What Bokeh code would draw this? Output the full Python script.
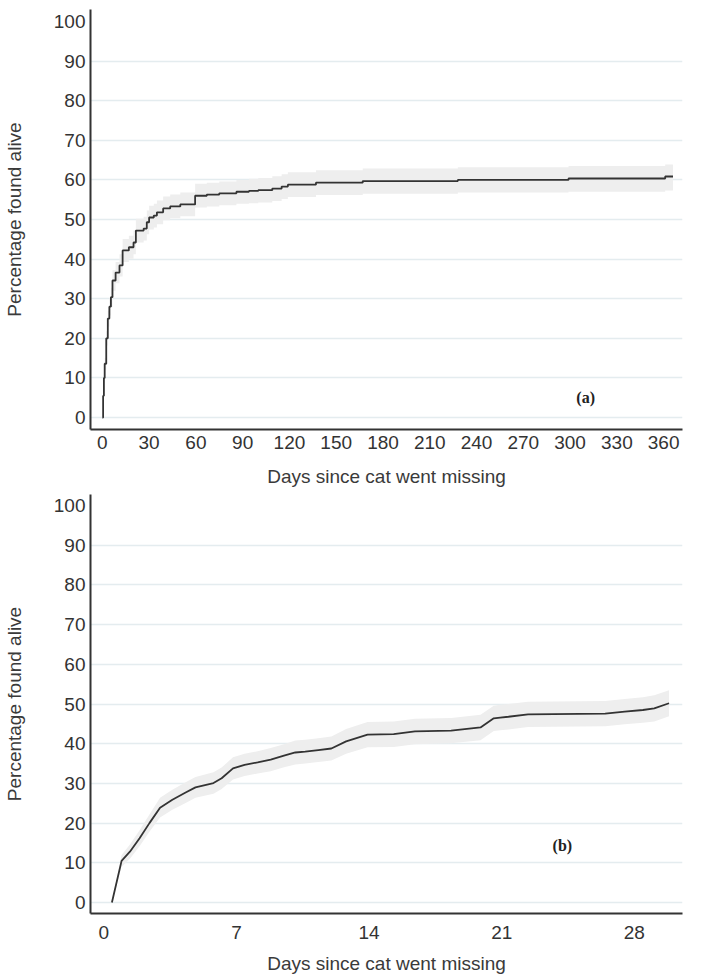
from bokeh.plotting import figure
from bokeh.layouts import column
from bokeh.models import FixedTicker, Label, Range1d
from bokeh.embed import file_html
from bokeh.resources import INLINE

# ---- Panel (a): first year ----
days_a = [0, 0.5, 1, 1.5, 2.5, 3.5, 4.5, 5.5, 6.5, 8.5, 11, 13, 17, 20, 21.5, 26.5, 28.5,
          30, 33, 35, 39, 43.5, 50, 59.5, 67, 75, 86, 94, 100, 109, 115, 119, 137, 167,
          228, 299, 361, 366]
surv_a = [0, 5.5, 10, 13.6, 20, 25, 28, 30.4, 34.6, 36.6, 38.4, 42.2, 43, 44.2, 47.2, 47.7,
          49.3, 50.5, 51, 51.8, 52.8, 53.3, 53.8, 56, 56.3, 56.6, 57.0, 57.2, 57.4, 57.8,
          58.3, 58.8, 59.3, 59.7, 60.0, 60.35, 60.85, 60.85]
lo_a = [0, 4.7, 8.8, 12.1, 18.2, 23.0, 25.8, 28.0, 32.0, 33.9, 35.6, 39.3, 40.1, 41.2, 44.2,
        44.7, 46.3, 47.5, 48.0, 48.8, 49.8, 50.3, 50.8, 53.0, 53.3, 53.6, 54.0, 54.1, 54.3,
        54.7, 55.2, 55.7, 56.2, 56.5, 56.8, 57.0, 57.3, 57.3]
hi_a = [0, 6.3, 11.2, 15.1, 21.8, 27.0, 30.2, 32.8, 37.2, 39.3, 41.2, 45.1, 45.9, 47.2, 50.2,
        50.7, 52.3, 53.5, 54.0, 54.8, 55.8, 56.3, 56.8, 59.0, 59.3, 59.6, 60.0, 60.3, 60.5,
        60.9, 61.4, 61.9, 62.4, 62.9, 63.2, 63.5, 63.9, 63.9]
xticks_a = [0, 30, 60, 90, 120, 150, 180, 210, 240, 270, 300, 330, 360]

# ---- Panel (b): first month ----
days_b = [0.43, 0.94, 1.38, 1.89, 2.41, 2.97, 3.62, 4.32, 4.84, 5.79, 6.22, 6.82, 7.43, 8.12,
          8.81, 9.51, 10.11, 10.63, 11.32, 12.01, 12.79, 13.92, 15.30, 16.42, 18.33, 19.88,
          20.58, 20.92, 21.35, 22.39, 26.46, 27.49, 28.45, 29.05, 29.83]
surv_b = [0, 10.5, 12.8, 16.2, 20, 23.9, 25.9, 27.7, 29, 30.1, 31.3, 33.8, 34.7, 35.3, 36, 37,
          37.8, 38, 38.4, 38.8, 40.6, 42.3, 42.4, 43.1, 43.3, 44.1, 46.4, 46.6, 46.8, 47.4,
          47.6, 48.1, 48.5, 48.9, 50.2]
lo_b = [0, 9.0, 11.0, 14.2, 17.8, 21.4, 23.4, 25.1, 26.4, 27.4, 28.6, 31.0, 31.9, 32.5, 33.1,
        34.1, 34.8, 35.0, 35.4, 35.8, 37.5, 39.1, 39.2, 39.9, 40.1, 40.9, 43.2, 43.4, 43.6,
        44.2, 44.4, 44.9, 45.3, 45.6, 46.9]
hi_b = [0, 12.0, 14.6, 18.2, 22.2, 26.4, 28.4, 30.3, 31.6, 32.8, 34.0, 36.6, 37.5, 38.1, 38.9,
        39.9, 40.8, 41.0, 41.4, 41.8, 43.7, 45.5, 45.6, 46.3, 46.5, 47.3, 49.6, 49.8, 50.0,
        50.6, 50.8, 51.3, 51.7, 52.2, 53.5]
xticks_b = [0, 7, 14, 21, 28]

yticks = [0, 10, 20, 30, 40, 50, 60, 70, 80, 90, 100]
ygrid_ticks = [0, 10, 20, 30, 40, 50, 60, 70, 80, 90]

x_label = "Days since cat went missing"
y_label = "Percentage found alive"

FONT = "Liberation Sans"
LINE = "#333333"
BAND = "#eeeeee"
GRID = "#e4ecef"


def base_fig(w, h, xr, yr, bl, br, bt, bb, xticks, xstand, xlabstand):
    p = figure(width=w, height=h, x_range=Range1d(*xr), y_range=Range1d(*yr),
               output_backend="svg", toolbar_location=None,
               min_border_left=bl, min_border_right=br, min_border_top=bt,
               min_border_bottom=bb)
    p.outline_line_color = None
    p.background_fill_color = "white"
    p.border_fill_color = "white"
    p.xgrid.visible = False
    p.ygrid.ticker = FixedTicker(ticks=ygrid_ticks)
    p.ygrid.grid_line_color = GRID
    p.ygrid.grid_line_width = 1.5
    p.xaxis.ticker = FixedTicker(ticks=xticks)
    p.yaxis.ticker = FixedTicker(ticks=yticks)
    for ax in (p.xaxis[0], p.yaxis[0]):
        ax.axis_line_color = LINE
        ax.axis_line_width = 2
        ax.major_tick_line_color = None
        ax.minor_tick_line_color = None
        ax.major_tick_out = 0
        ax.major_tick_in = 0
        ax.major_label_text_font = FONT
        ax.major_label_text_font_size = "19px"
        ax.major_label_text_color = "#333333"
        ax.axis_label_text_font = FONT
        ax.axis_label_text_font_size = "19px"
        ax.axis_label_text_font_style = "normal"
        ax.axis_label_text_color = "#3a3a3a"
    p.xaxis.axis_label = x_label
    p.yaxis.axis_label = y_label
    p.xaxis.major_label_standoff = xstand
    p.xaxis.axis_label_standoff = xlabstand
    p.yaxis.major_label_standoff = 5
    p.yaxis.axis_label_standoff = 26
    return p


# Panel (a)
pa = base_fig(686, 492, (-7.6, 372.1), (-3.0, 103.0), 81, 4, 9, 63, xticks_a, 6, 14)
pa.varea_step(x=days_a, y1=lo_a, y2=hi_a, step_mode="after", fill_color=BAND)
pa.step(x=days_a, y=surv_a, mode="after", line_color=LINE, line_width=1.8)
pa.add_layout(Label(x=310, y=5, text="(a)", text_font="Liberation Serif",
                    text_font_style="bold", text_font_size="16px", text_color="#222222",
                    text_align="center", text_baseline="middle"))

# Panel (b)
pb = base_fig(686, 485, (-0.70, 30.54), (-2.77, 102.8), 82, 2, 2, 64, xticks_b, 12, 11)
pb.varea(x=days_b, y1=lo_b, y2=hi_b, fill_color=BAND)
pb.line(x=days_b, y=surv_b, line_color=LINE, line_width=1.8)
pb.add_layout(Label(x=24.2, y=14.4, text="(b)", text_font="Liberation Serif",
                    text_font_style="bold", text_font_size="16px", text_color="#222222",
                    text_align="center", text_baseline="middle"))

layout = column(pa, pb, spacing=0)
open("out.html", "w").write(file_html(layout, INLINE))
